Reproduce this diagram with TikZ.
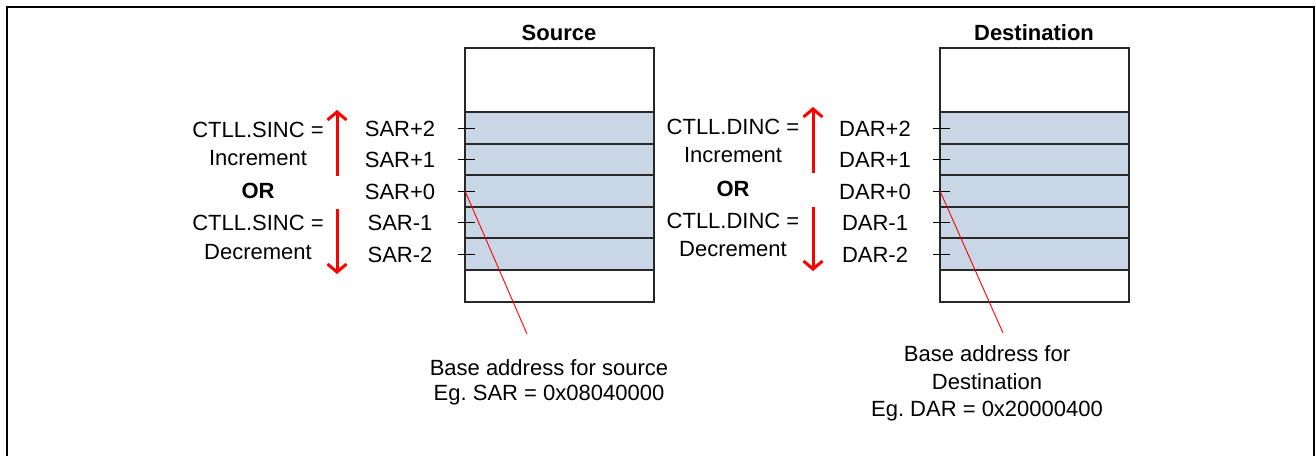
\documentclass[tikz,border=0pt]{standalone}
\usepackage{fontspec}
\setmainfont{Liberation Sans}
\usetikzlibrary{arrows.meta}
\definecolor{rowblue}{RGB}{201,214,229}
\definecolor{boxline}{RGB}{40,40,40}
\begin{document}
\frenchspacing
\begin{tikzpicture}[x=1pt,y=-1pt,
  txt/.style={inner sep=0pt,text height=16pt,text depth=0pt,anchor=center,font=\fontsize{22}{25}\selectfont},
  btxt/.style={txt,font=\fontsize{22}{25}\selectfont\bfseries},
  memrow/.style={draw=boxline,line width=1.2pt,fill=rowblue},
  membox/.style={draw=boxline,line width=1.2pt,fill=white},
  tick/.style={draw=black,line width=1pt},
  dirarrow/.style={draw=red,line width=3pt,-{Straight Barb[length=8pt,width=19pt,line width=3pt]}},
  pointer/.style={draw=red,line width=0.9pt}]
\useasboundingbox (0,0) rectangle (1316,455);
\draw[line width=2.2pt] (7,470) -- (7,7) -- (1314,7) -- (1314,470);

% ---------------- Source ----------------
\node[btxt] (stitle) at (559,32) {Source};
\draw[membox] (465,48) rectangle (654,302);
\foreach \i/\ya/\yb in {0/112/144,1/144/175,2/175/207,3/207/238,4/238/270}
  \draw[memrow] (465,\ya) rectangle (654,\yb);
\foreach \n/\lab/\y in {s2/SAR+2/128,s1/SAR+1/159,s0/SAR+0/191,sm1/SAR-1/222,sm2/SAR-2/254}{
  \node[txt] (\n) at (400,\y) {\lab};
  \coordinate (\n t1) at (458,\y);
  \coordinate (\n t2) at (475,\y);
  \draw[tick] (\n t1) -- (\n t2);
}
\node[txt] (sinc1) at (258,129) {CTLL.SINC =};
\node[txt] (sinc2) at (258,157) {Increment};
\node[btxt] (sor) at (258,190) {OR};
\node[txt] (sdec1) at (258,222) {CTLL.SINC =};
\node[txt] (sdec2) at (258,251) {Decrement};
\coordinate (supa) at (337,176);
\coordinate (supb) at (337,110);
\coordinate (sdna) at (337,209);
\coordinate (sdnb) at (337,274);
\draw[dirarrow] (supa) -- (supb);
\draw[dirarrow] (sdna) -- (sdnb);
\coordinate (sbase) at (465,191);
\coordinate (send) at (527,334);
\draw[pointer] (sbase) -- (send);
\node[txt] (snote1) at (549,367) {Base address for source};
\node[txt] (snote2) at (549,392) {Eg. SAR = 0x08040000};

% ---------------- Destination ----------------
\node[btxt] (dtitle) at (1034,32) {Destination};
\draw[membox] (940,48) rectangle (1129,302);
\foreach \i/\ya/\yb in {0/112/144,1/144/175,2/175/207,3/207/238,4/238/270}
  \draw[memrow] (940,\ya) rectangle (1129,\yb);
\foreach \n/\lab/\y in {d2/DAR+2/128,d1/DAR+1/159,d0/DAR+0/191,dm1/DAR-1/222,dm2/DAR-2/254}{
  \node[txt] (\n) at (875,\y) {\lab};
  \coordinate (\n t1) at (933,\y);
  \coordinate (\n t2) at (950,\y);
  \draw[tick] (\n t1) -- (\n t2);
}
\node[txt] (dinc1) at (733,126) {CTLL.DINC =};
\node[txt] (dinc2) at (733,154) {Increment};
\node[btxt] (dor) at (733,188) {OR};
\node[txt] (ddec1) at (733,220) {CTLL.DINC =};
\node[txt] (ddec2) at (733,248) {Decrement};
\coordinate (dupa) at (813,173);
\coordinate (dupb) at (813,107);
\coordinate (ddna) at (813,207);
\coordinate (ddnb) at (813,271);
\draw[dirarrow] (dupa) -- (dupb);
\draw[dirarrow] (ddna) -- (ddnb);
\coordinate (dbase) at (940,191);
\coordinate (dend) at (1003,333);
\draw[pointer] (dbase) -- (dend);
\node[txt] (dnote1) at (987,353) {Base address for};
\node[txt] (dnote2) at (987,381) {Destination};
\node[txt] (dnote3) at (987,408) {Eg. DAR = 0x20000400};
\end{tikzpicture}
\end{document}
